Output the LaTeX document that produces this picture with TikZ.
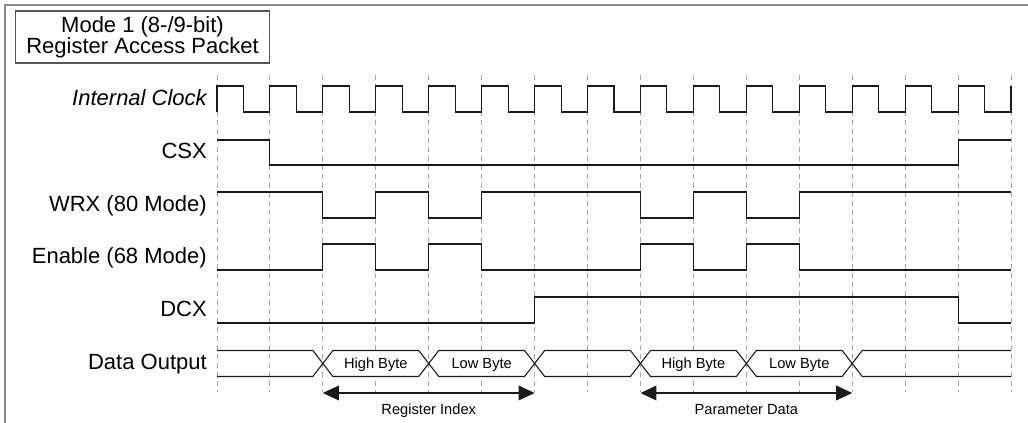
\documentclass[tikz,border=0pt]{standalone}
\usepackage{fontspec}
\setmainfont{Liberation Sans}
\usepackage{tikz}
\usetikzlibrary{arrows.meta,positioning}
\definecolor{TraceInk}{HTML}{1A1A1A}
\definecolor{GridGray}{HTML}{A8A8A8}
\definecolor{FrameGray}{HTML}{8A8A8A}
\definecolor{BoxGray}{HTML}{555555}

\begin{document}
\begin{tikzpicture}[x=0.75pt,y=-0.75pt,>={Triangle[length=12pt,width=11pt]},
  wave/.style={draw=TraceInk,line width=0.8pt,line join=miter},
  gridline/.style={draw=GridGray,line width=0.75pt,dash pattern=on 3.75pt off 3pt},
  siglabel/.style={anchor=base east,inner sep=0pt,font=\fontsize{16.5}{19}\selectfont},
  bytelabel/.style={anchor=base,inner sep=0pt,font=\fontsize{11}{13}\selectfont}]
  \useasboundingbox (0,0) rectangle (1028,423);
  \draw[FrameGray,line width=1.5pt] (5,423) -- (5,5) -- (1028,5);
  % packet title
  \node[draw=BoxGray,line width=0.8pt,minimum width=191pt,minimum height=39pt,
        inner sep=0pt,align=center,font=\fontsize{16.5}{16}\selectfont] (title) at (142.5,37)
        {Mode 1 (8-/9-bit)\\Register Access Packet};
  % signal names
  \node[siglabel,font=\fontsize{16.5}{19}\selectfont\itshape] (clk) at (207,105.5) {Internal Clock};
  \node[siglabel] (csx) at (207,158.5) {CSX};
  \node[siglabel] (wrx) at (207,211.5) {WRX (80 Mode)};
  \node[siglabel] (enable) at (207,263.5) {Enable (68 Mode)};
  \node[siglabel] (dcx) at (207,316.5) {DCX};
  \node[siglabel] (dout) at (207,370) {Data Output};
  % waveforms, x in clock periods
  \begin{scope}[shift={(217,0)},x=39.7pt]
    \foreach \k in {0,...,15}
      \draw[gridline] (\k,75) -- (\k,392);
    \draw[wave] (0,112) \foreach \k in {0,...,14} { -- (\k,86) -- (\k+0.5,86) -- (\k+0.5,112) -- (\k+1,112) } -- (15,86);
    \draw[wave] (0,140) -- (1,140) -- (1,165) -- (14,165) -- (14,140) -- (15,140);
    \draw[wave] (0,192) -- (2,192) -- (2,218) -- (3,218) -- (3,192) -- (4,192) -- (4,218) -- (5,218) -- (5,192)
      -- (8,192) -- (8,218) -- (9,218) -- (9,192) -- (10,192) -- (10,218) -- (11,218) -- (11,192) -- (15,192);
    \draw[wave] (0,270) -- (2,270) -- (2,244) -- (3,244) -- (3,270) -- (4,270) -- (4,244) -- (5,244) -- (5,270)
      -- (8,270) -- (8,244) -- (9,244) -- (9,270) -- (10,270) -- (10,244) -- (11,244) -- (11,270) -- (15,270);
    \draw[wave] (0,323) -- (6,323) -- (6,297) -- (14,297) -- (14,323) -- (15,323);
    % data bus
    \draw[wave] (0,350.5) -- (1.81,350.5) -- (2,363.5) -- (1.81,376.5) -- (0,376.5);
    \foreach \a/\b in {2/4,4/6,8/10,10/12}
      \draw[wave,fill=white] (\a,363.5) -- (\a+0.19,350.5) -- (\b-0.19,350.5) -- (\b,363.5)
        -- (\b-0.19,376.5) -- (\a+0.19,376.5) -- cycle;
    \draw[wave] (6,363.5) -- (6.19,350.5) -- (7.81,350.5) -- (8,363.5) -- (7.81,376.5) -- (6.19,376.5) -- cycle;
    \draw[wave] (15,350.5) -- (12.19,350.5) -- (12,363.5) -- (12.19,376.5) -- (15,376.5);
    \node[bytelabel] (hibyteA) at (3,369) {High Byte};
    \node[bytelabel] (lobyteA) at (5,369) {Low Byte};
    \node[bytelabel] (hibyteB) at (9,369) {High Byte};
    \node[bytelabel] (lobyteB) at (11,369) {Low Byte};
    % spans
    \coordinate (regL) at (2,393);
    \coordinate (regR) at (6,393);
    \coordinate (parL) at (8,393);
    \coordinate (parR) at (12,393);
    \draw[<->,TraceInk,line width=1pt] (regL) -- (regR);
    \draw[<->,TraceInk,line width=1pt] (parL) -- (parR);
    \node[bytelabel] (regidx) at (4,415) {Register Index};
    \node[bytelabel] (pardata) at (10,415) {Parameter Data};
  \end{scope}
\end{tikzpicture}
\end{document}
